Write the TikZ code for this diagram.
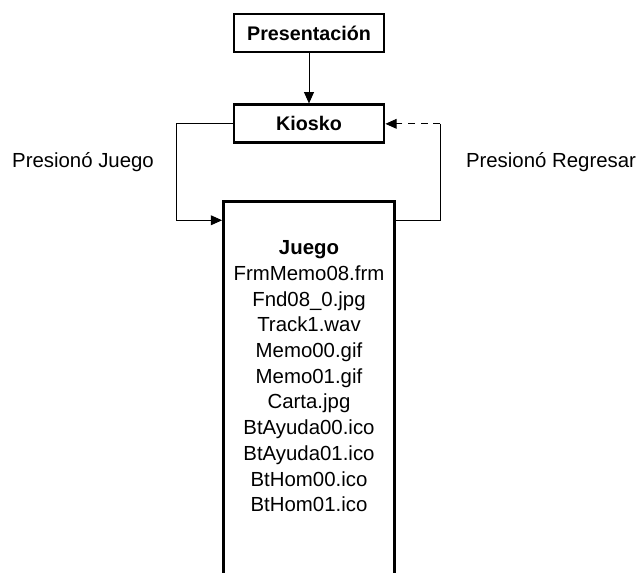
\documentclass[tikz,border=0pt]{standalone}
\usepackage{fontspec}
\setmainfont{Liberation Sans}
\usetikzlibrary{positioning,arrows.meta}

\begin{document}
\begin{tikzpicture}[
        x=0.025cm, y=-0.025cm,
        node distance=1.25cm,
        caja/.style={rectangle, draw=black, line width=2pt, minimum width=3.75cm,
                     minimum height=0.95cm, inner sep=0pt, font=\fontsize{14}{17}\selectfont\bfseries},
        pantalla/.style={rectangle, draw=black, line width=2pt, minimum width=4.275cm,
                     minimum height=10cm, anchor=north},
        lista/.style={align=center, inner sep=0pt, font=\fontsize{14.5}{18.3}\selectfont},
        etiqueta/.style={inner sep=0pt, font=\fontsize{14.5}{17}\selectfont},
        flecha/.style={-{Triangle[length=8pt,width=7pt]}, line width=0.7pt, black},
        linea/.style={line width=0.7pt, black}
    ]
        \useasboundingbox (0,0) rectangle (641,573);
        \clip (0,0) rectangle (641,573);

        % pantallas
        \node[caja] (presentacion) at (309,33) {Presentación};
        \node[caja, below=of presentacion] (kiosko) {Kiosko};
        \node[pantalla, below=1.4cm of kiosko] (juego) {};
        \node[lista] (archivos) at ([yshift=-4.4cm]juego.north) {\textbf{Juego}\\FrmMemo08.frm\\Fnd08\_0.jpg\\Track1.wav\\Memo00.gif\\Memo01.gif\\Carta.jpg\\BtAyuda00.ico\\BtAyuda01.ico\\BtHom00.ico\\BtHom01.ico};

        % etiquetas
        \node[etiqueta] (lbljuego) at (83,162) {Presionó Juego};
        \node[etiqueta] (lblregresar) at (551,162) {Presionó Regresar};

        % conexiones
        \coordinate (esqder) at ([xshift=1.375cm]kiosko.east);
        \draw[flecha] (presentacion) -- (kiosko);
        \draw[flecha] (kiosko.west) -- ++(-56,0) |- ([yshift=-0.5cm]juego.north west);
        \draw[linea] ([yshift=-0.5cm]juego.north east) -| (esqder);
        \draw[flecha, dash pattern=on 5pt off 4pt] (esqder) -- (kiosko.east);
    \end{tikzpicture}
\end{document}
